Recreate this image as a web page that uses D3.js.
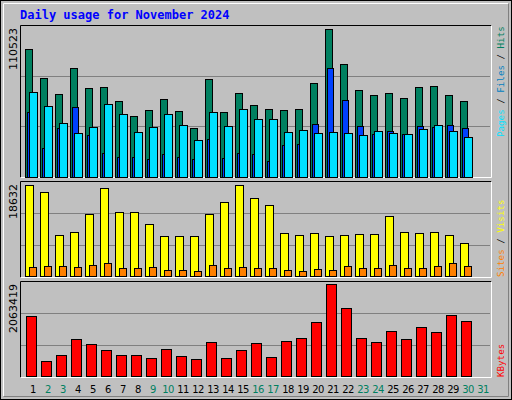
<!DOCTYPE html>
<html><head><meta charset="utf-8">
<script src="https://cdn.jsdelivr.net/npm/d3@7/dist/d3.min.js"></script>
<style>body{margin:0;background:#fff}</style></head>
<body><svg id="c" width="512" height="400"></svg>
<script>
const days = d3.range(1, 32);
const weekendDays = [2,3,9,10,16,17,23,24,30,31];
const hits = [93820,72450,60660,79820,65080,65820,55510,44450,48870,56980,48140,35610,71720,47400,61400,52560,49610,48870,49610,68770,108550,82770,63610,59930,61400,57720,65820,66560,59930,55510];
const files = [47400,20880,35610,51080,30450,17190,14240,14240,12770,16460,14240,12770,27510,13510,17190,16460,11300,23090,23820,38560,79820,56240,37090,31190,33400,31190,37090,36350,37820,35610];
const pages = [62140,51820,39300,31930,36350,53300,45930,32660,36350,45930,37820,26770,47400,37090,49610,42240,42240,32660,34140,31930,32660,31930,30450,33400,31930,31190,34880,37820,33400,28980];
const visits = [18430,17010,8300,8910,12560,18020,12960,12960,10530,8100,8100,8100,12560,14990,18632,15800,14380,8710,8300,8710,8100,8300,8510,8510,12150,8910,8710,8910,8300,6680];
const sites = [1820,2030,2030,1820,2230,2630,1620,1620,1820,1220,1220,1010,2230,1620,1820,1620,1620,1220,1010,1420,1220,2030,1620,1620,2230,1620,1620,2030,2630,2030];
const kbytes = [1340500,323800,459400,820900,707900,572400,459400,459400,391600,594900,436800,369000,753100,391600,572400,730500,414200,775700,843500,1205000,2063419,1521300,843500,753100,1001600,820900,1092000,979000,1363100,1227600];
const maxLabels = ["110523","18632","2063419"];

const svg = d3.select("#c");
svg.append("rect").attr("x",0.5).attr("y",0.5).attr("width",511).attr("height",399).attr("fill","#c0c0c0").attr("stroke","#000");
svg.append("path").attr("d","M3.5,396.5V3.5H508.5").attr("fill","none").attr("stroke","#fff");
svg.append("path").attr("d","M508.5,3.5V396.5H3.5").attr("fill","none").attr("stroke","#808080");
svg.append("text").attr("x",20).attr("y",19).attr("fill","#0000ff").attr("font-family","DejaVu Sans Mono").attr("font-weight","bold").attr("font-size",12).text("Daily usage for November 2024");

const x = d3.scaleBand().domain(days).range([25, 490]).paddingInner(0).paddingOuter(0);
const panels = [
 {top:25,bot:177,yTop:26.5},
 {top:181,bot:277,yTop:184.5},
 {top:281,bot:377,yTop:284.3}
];
const scales = [
 d3.scaleLinear().domain([0,110523]).range([176.5,panels[0].yTop]),
 d3.scaleLinear().domain([0,18632]).range([276.3,panels[1].yTop]),
 d3.scaleLinear().domain([0,2063419]).range([375.7,panels[2].yTop])
];
panels.forEach((p,i)=>{
  const g = svg.append("g");
  [1,2].forEach(k=>{
    const yy = Math.round(p.bot-(p.bot-p.top)*k/3)+0.5;
    g.append("line").attr("x1",21).attr("x2",490).attr("y1",yy).attr("y2",yy).attr("stroke","#808080");
  });
  g.append("path").attr("d",`M20.5,${p.bot+0.5}V${p.top+0.5}H491.5`).attr("fill","none").attr("stroke","#000");
  g.append("path").attr("d",`M491.5,${p.top+0.5}V${p.bot+0.5}H20.5`).attr("fill","none").attr("stroke","#fff");
  svg.append("text").attr("transform",`translate(17,${p.top+3}) rotate(-90)`).attr("text-anchor","end")
    .attr("font-family","DejaVu Sans").attr("font-size",11).attr("fill","#000").text(maxLabels[i]);
});

function bars(data, sc, off, w, color){
  svg.append("g").selectAll("rect").data(data).join("rect")
    .attr("x",(d,i)=>Math.round(x(i+1)+off)+0.5)
    .attr("y",d=>Math.round(sc(d))+0.5)
    .attr("width",w).attr("height",d=>Math.max(0,Math.round(sc(0))-Math.round(sc(d))))
    .attr("fill",color).attr("stroke","#000");
}
bars(hits, scales[0], 0, 7, "#008060");
bars(files, scales[0], 2, 6, "#0040ff");
bars(pages, scales[0], 4, 8, "#00e0ff");
bars(visits, scales[1], 0, 8, "#ffff00");
bars(sites, scales[1], 4, 7, "#ff8000");
bars(kbytes, scales[2], 1, 10, "#ff0000");

svg.append("g").selectAll("text").data(days).join("text")
  .attr("x",d=>x(d)+8).attr("y",393).attr("text-anchor","middle")
  .attr("font-family","DejaVu Sans").attr("font-size",10).attr("letter-spacing",-0.5)
  .attr("fill",d=>weekendDays.includes(d)?"#008060":"#000").text(d=>d);

function legend(parts, yBottom){
  const t = svg.append("text").attr("transform",`translate(504,${yBottom}) rotate(-90)`)
    .attr("font-family","DejaVu Sans Mono").attr("font-size",9.2);
  parts.forEach(([s,c])=>t.append("tspan").attr("fill",c).text(s));
}
legend([["Pages","#00e0ff"],[" / ","#000"],["Files","#0080c0"],[" / ","#000"],["Hits","#008060"]],137);
legend([["Sites","#ff8000"],[" / ","#000"],["Visits","#ffff00"]],277);
legend([["KBytes","#ff0000"]],377);
</script></body></html>
